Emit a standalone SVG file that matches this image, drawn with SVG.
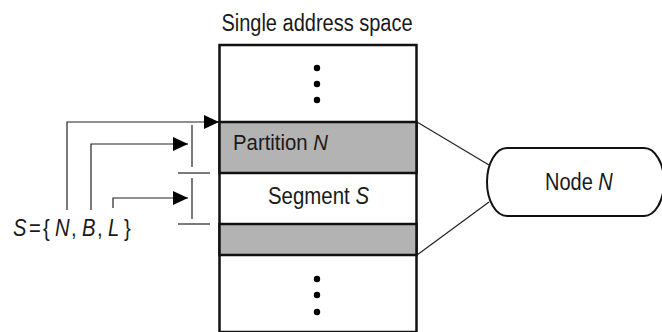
<svg xmlns="http://www.w3.org/2000/svg" width="662" height="332" viewBox="0 0 662 332">
<style>
text{font-family:"Liberation Sans",Arial,sans-serif;font-size:23px;fill:#1a1a1a}
.it{font-style:italic}
.box{stroke:#111;stroke-width:2.5;}
.conn{stroke:#222;stroke-width:1.2;fill:none}
.dot{fill:#000}
</style>
<defs>
<marker id="ah" markerWidth="15" markerHeight="14" refX="15" refY="7" orient="auto" markerUnits="userSpaceOnUse">
<path d="M0,0 L15,7 L0,14 Z" fill="#000"/>
</marker>
</defs>
<rect width="662" height="332" fill="#fff"/>
<text transform="translate(317,31) scale(0.87,1)" text-anchor="middle">Single address space</text>
<g id="address-space">
<rect x="219.5" y="45" width="197" height="287" fill="#fff" class="box"/>
<rect x="219.5" y="122" width="197" height="51" fill="#b3b3b3" class="box"/>
<rect x="219.5" y="224" width="197" height="31" fill="#b3b3b3" class="box"/>
<circle class="dot" cx="317" cy="68" r="3.2"/>
<circle class="dot" cx="317" cy="84" r="3.2"/>
<circle class="dot" cx="317" cy="100" r="3.2"/>
<circle class="dot" cx="317" cy="279" r="3.2"/>
<circle class="dot" cx="317" cy="295" r="3.2"/>
<circle class="dot" cx="317" cy="312" r="3.2"/>
</g>
<g id="partition-n">
<text transform="translate(233,150) scale(0.885,1)">Partition <tspan class="it">N</tspan></text>
</g>
<g id="segment-s">
<text transform="translate(268,204) scale(0.888,1)">Segment <tspan class="it">S</tspan></text>
</g>
<g id="node-n">
<path d="M507,148 H644 A20,34 0 0 1 644,216 H507 A20,34 0 0 1 507,148 Z" fill="#fff" stroke="#111" stroke-width="2"/>
<text transform="translate(545,190) scale(0.87,1)">Node <tspan class="it">N</tspan></text>
</g>
<g id="formula">
<text transform="translate(0,236) scale(0.88,1)"><tspan x="14.8" class="it">S</tspan><tspan x="33">=</tspan><tspan x="49">{</tspan><tspan x="62.5" class="it">N</tspan><tspan x="80.7">,</tspan><tspan x="93.2" class="it">B</tspan><tspan x="110.2">,</tspan><tspan x="122.7" class="it">L</tspan><tspan x="141">}</tspan></text>
</g>
<g id="connectors">
<path class="conn" d="M67,210 V122 H219" marker-end="url(#ah)"/>
<path class="conn" d="M91,210 V144 H188" marker-end="url(#ah)"/>
<path class="conn" d="M113,208 V198 H188" marker-end="url(#ah)"/>
<line class="conn" x1="192" y1="125" x2="192" y2="167"/>
<line class="conn" x1="178" y1="173" x2="210" y2="173"/>
<line class="conn" x1="192" y1="178" x2="192" y2="219"/>
<line class="conn" x1="178" y1="224" x2="210" y2="224"/>
<line class="conn" x1="417" y1="122" x2="489" y2="165"/>
<line class="conn" x1="417" y1="255" x2="489" y2="202"/>
</g>
</svg>
